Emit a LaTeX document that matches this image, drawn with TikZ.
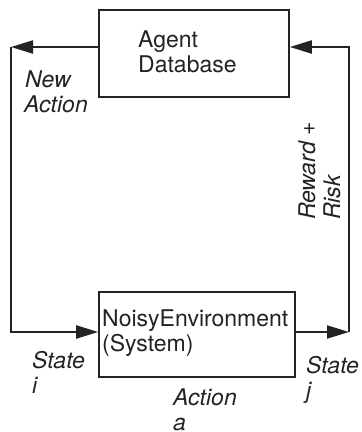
\documentclass[tikz,border=0pt]{standalone}
\usepackage{fontspec}
\setmainfont{TeX Gyre Heros}
\usetikzlibrary{arrows.meta}
\definecolor{ink}{HTML}{232323}
\begin{document}
\begin{tikzpicture}[x=1pt,y=-1pt,
  every node/.style={font=\fontsize{23}{25}\selectfont, text=ink, inner sep=0pt},
  box/.style={draw=ink, line width=1.6pt, fill=white},
  wire/.style={draw=ink, line width=2pt},
  arr/.style={wire, -{Triangle[length=22pt,width=13pt]}},
  txt/.style={anchor=base west},
  lbl/.style={anchor=base west, font=\fontsize{23}{25}\selectfont\itshape}]
\useasboundingbox (0,0) rectangle (362,432);

% the two blocks
\node[box, minimum width=190pt, minimum height=87pt] (agent) at (194,53.5) {};
\node[box, minimum width=196pt, minimum height=85pt] (env) at (197,334.5) {};

\node[txt] (agentA) at (138,47) {Agent};
\node[txt] (agentB) at (138,72) {Database};
\node[txt] (envA) at (102,326) {NoisyEnvironment};
\node[txt] (envB) at (102,351) {(System)};

% corners of the feedback loop
\coordinate (tl) at (11,47);
\coordinate (bl) at (11,332);
\coordinate (br) at (349,332);
\coordinate (tr) at (349,47);

% connectors
\draw[arr] (tl -| agent.west) -- (tl);
\draw[arr] (tl) -- (bl) -- (bl -| env.west);
\draw[arr] (br -| env.east) -- (br);
\draw[arr] (br) -- (tr) -- (tr -| agent.east);

% labels
\node[lbl] (newA) at (25,87) {New};
\node[lbl] (newB) at (24,112) {Action};
\node[lbl] (siA) at (32,368) {State};
\node[lbl] (siB) at (32,393) {i};
\node[lbl] (sjA) at (306,373) {State};
\node[lbl] (sjB) at (306,398) {j};
\node[lbl] (actA) at (173,405) {Action};
\node[lbl] (actB) at (173,430) {a};
\node[lbl, rotate=90] (rwA) at (315,220) {Reward +};
\node[lbl, rotate=90] (rwB) at (340,220) {Risk};
\end{tikzpicture}
\end{document}
